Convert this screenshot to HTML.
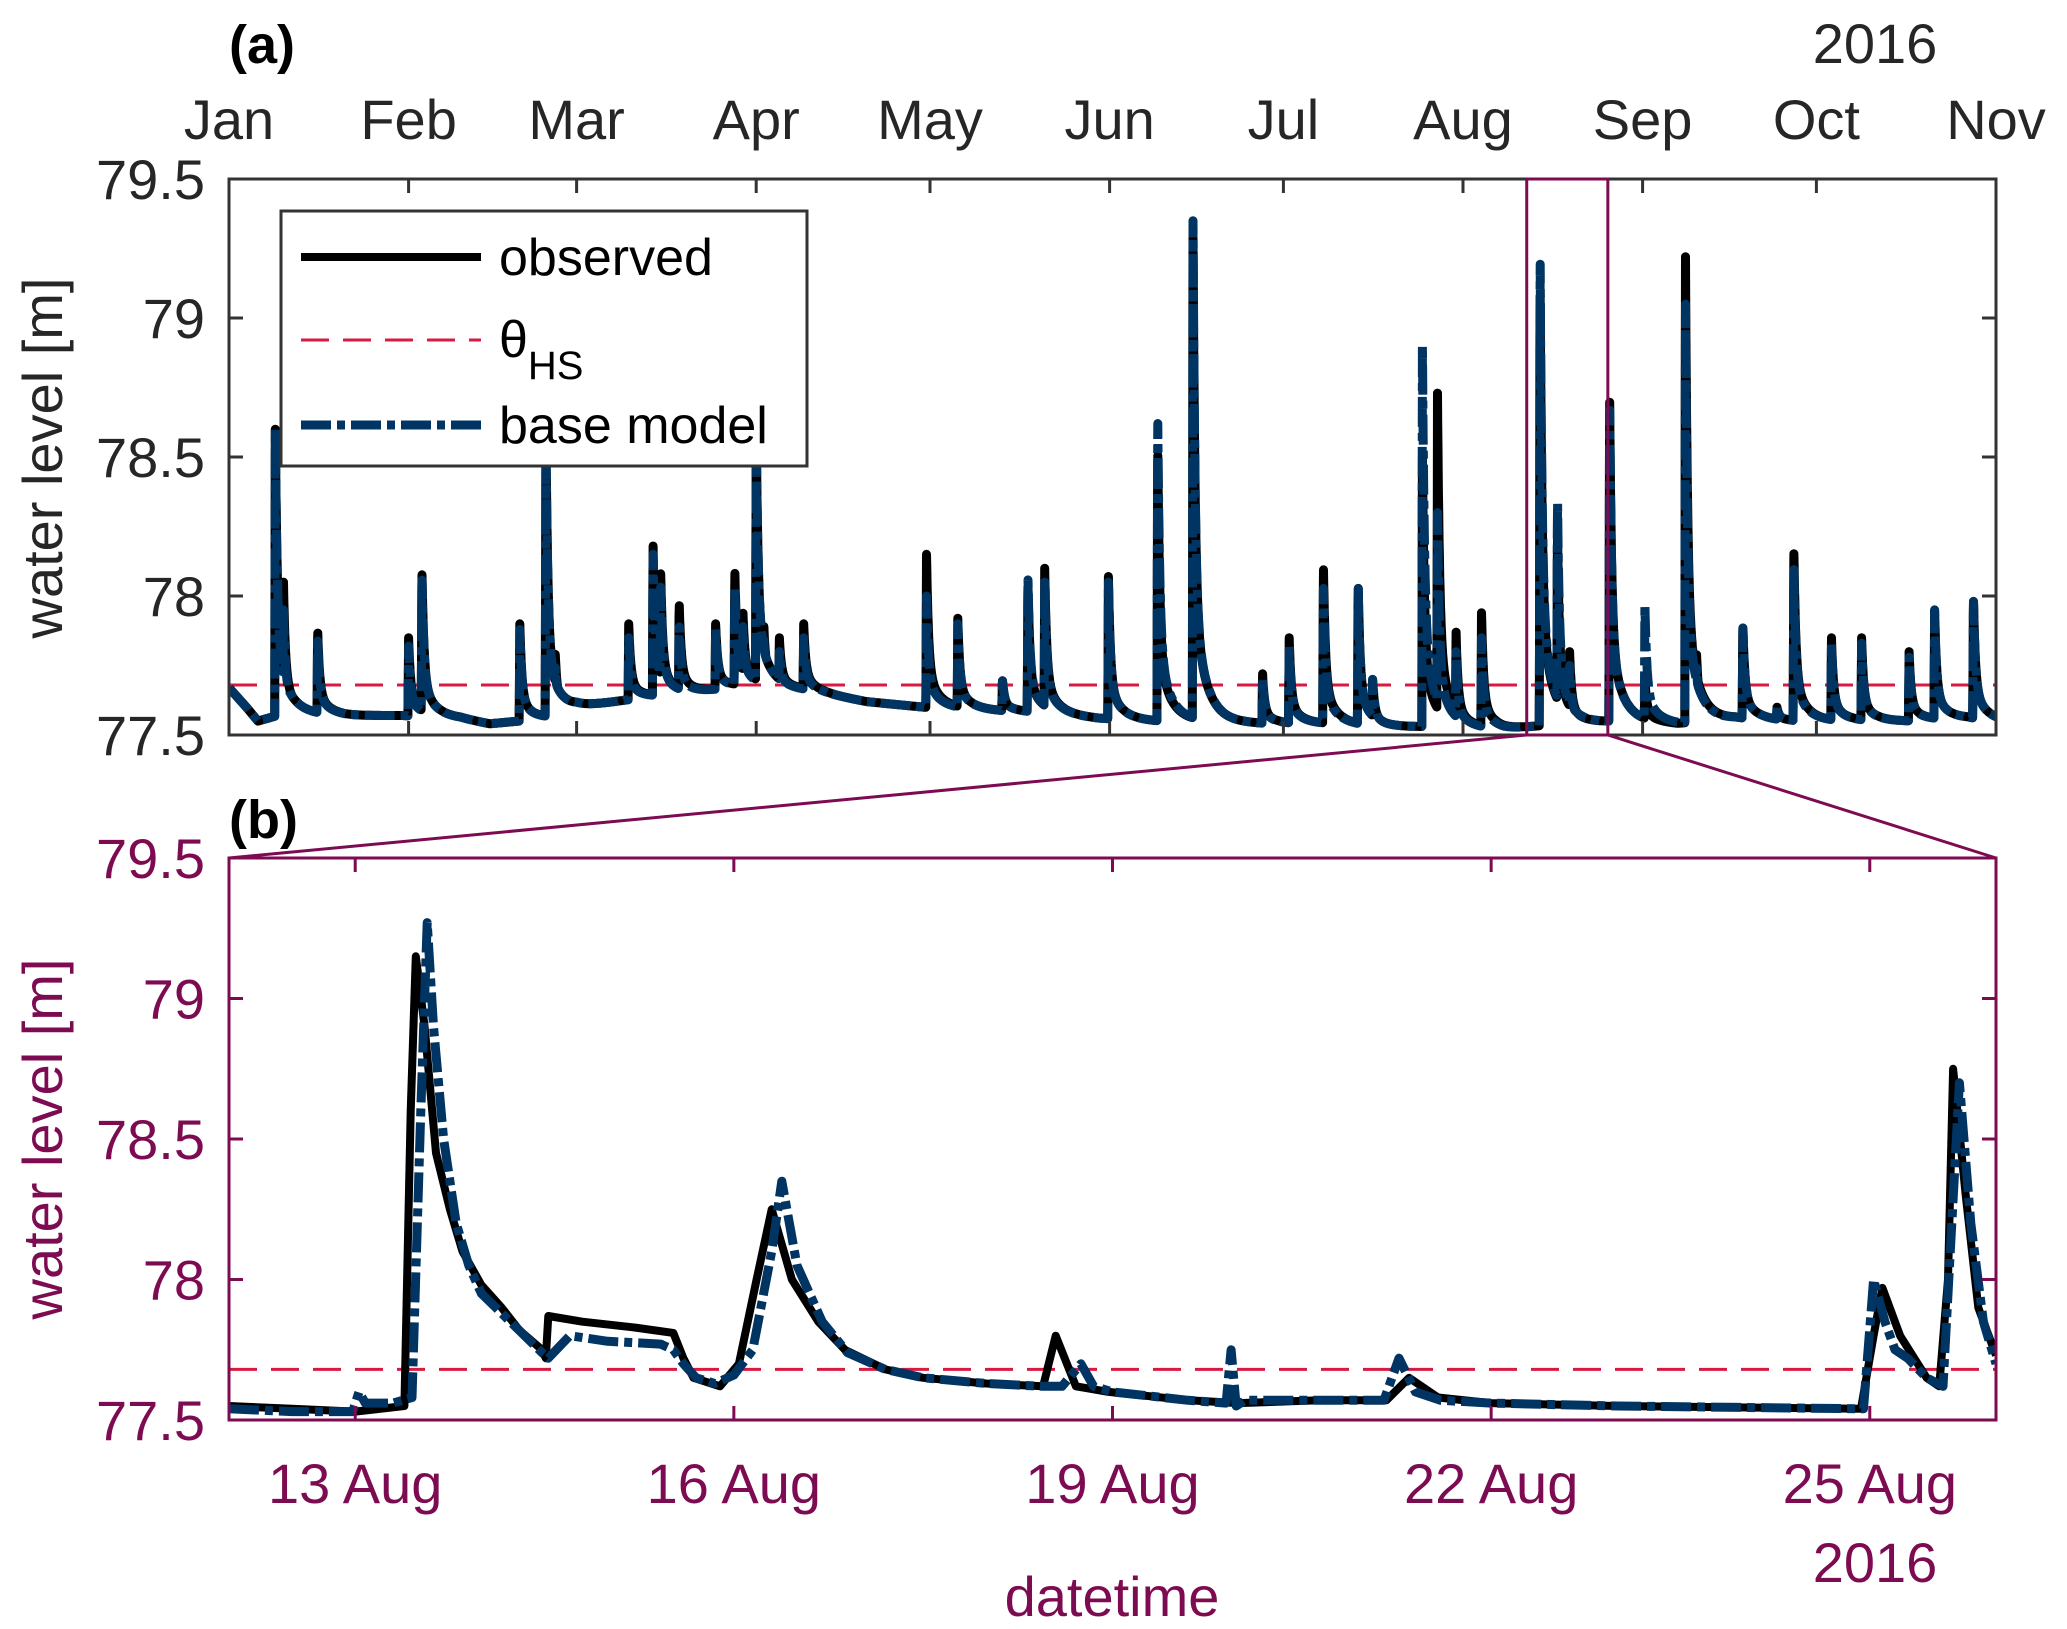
<!DOCTYPE html>
<html><head><meta charset="utf-8"><style>
html,body{margin:0;padding:0;background:#fff;}
svg{display:block;font-family:"Liberation Sans",sans-serif;}
</style></head><body>
<svg id="fig" width="2067" height="1629" viewBox="0 0 2067 1629"></svg>
<script>
// ---------- DATA ----------
const monthLabels=["Jan","Feb","Mar","Apr","May","Jun","Jul","Aug","Sep","Oct","Nov"];
const monthDays=[0,31,60,91,121,152,182,213,244,274,305];
const yTicks=[77.5,78,78.5,79,79.5];
const yTickLabels=["77.5","78","78.5","79","79.5"];
const threshold=77.68;
// baseline knots (day of year, level)
const baseDays=[0,3,5,10,20,30,40,45,55,60,70,80,90,100,110,120,130,140,150,160,170,180,190,200,210,220,230,240,250,260,270,280,290,300,305];
const baseLevels=[77.67,77.6,77.55,77.58,77.57,77.57,77.56,77.54,77.56,77.6,77.63,77.65,77.68,77.66,77.62,77.6,77.59,77.58,77.56,77.55,77.55,77.54,77.54,77.53,77.53,77.52,77.54,77.55,77.54,77.56,77.55,77.55,77.55,77.56,77.55];
// spike events: day, observed peak, modelled peak
const spikeDays=[8.0,9.4,15.3,31.0,33.3,50.2,54.7,56.3,69.0,73.2,74.5,77.7,84.0,87.3,88.7,91.0,92.3,95.0,99.2,120.4,125.8,133.5,137.9,140.8,151.8,160.3,166.4,178.4,183.0,188.9,194.9,197.4,206.0,208.6,211.8,216.2,226.3,229.3,231.4,238.3,244.4,251.4,253.3,261.3,267.2,270.1,276.6,281.8,290.0,294.4,301.1];
const spikeObs=[78.6,78.05,77.88,77.85,78.1,77.9,78.6,77.8,77.9,78.18,78.1,77.98,77.9,78.1,77.95,78.6,77.9,77.85,77.9,78.15,77.92,77.7,78.05,78.1,78.07,78.55,79.3,77.72,77.85,78.12,78.05,77.7,78.5,78.73,77.87,77.94,79.15,78.25,77.8,78.75,77.7,79.22,77.8,77.9,77.6,78.18,77.85,77.85,77.8,77.95,78.0];
const spikeModel=[78.6,77.95,77.85,77.82,78.08,77.88,78.6,77.75,77.85,78.15,78.05,77.9,77.88,78.05,77.9,78.6,77.85,77.8,77.85,78.0,77.9,77.7,78.08,78.05,78.05,78.67,79.35,77.7,77.82,78.05,78.05,77.7,78.9,78.3,77.8,77.85,79.27,78.37,77.75,78.72,77.97,79.05,77.75,77.9,77.6,78.12,77.83,77.83,77.78,77.95,78.0];
// zoom panel (b): day offset from 12 Aug 00:00
const zoomTickLabels=["13 Aug","16 Aug","19 Aug","22 Aug","25 Aug"];
const zoomTickDays=[1,4,7,10,13];
const obsT=[0,0.5,1.0,1.39,1.44,1.48,1.55,1.64,1.75,1.85,2.0,2.16,2.3,2.48,2.51,2.53,2.8,3.2,3.52,3.6,3.68,3.89,4.04,4.18,4.30,4.46,4.67,4.88,5.2,5.5,6.0,6.45,6.55,6.71,6.97,7.6,8.0,8.64,9.17,9.35,9.58,10.0,11.0,12.93,13.03,13.1,13.24,13.45,13.55,13.62,13.66,13.76,13.86,14.0];
const obsV=[77.55,77.54,77.53,77.55,78.6,79.15,78.9,78.45,78.25,78.1,77.98,77.9,77.82,77.75,77.72,77.87,77.85,77.83,77.81,77.72,77.65,77.62,77.7,78.0,78.25,78.0,77.85,77.75,77.68,77.65,77.63,77.62,77.8,77.62,77.6,77.57,77.56,77.57,77.57,77.65,77.58,77.56,77.55,77.54,77.8,77.97,77.8,77.65,77.62,78.0,78.75,78.3,77.9,77.73];
const modT=[0,0.5,0.98,1.03,1.08,1.3,1.45,1.52,1.57,1.62,1.7,1.8,1.9,2.0,2.16,2.48,2.53,2.7,3.0,3.42,3.52,3.6,3.7,3.85,4.0,4.15,4.30,4.38,4.5,4.7,4.9,5.2,5.5,6.0,6.45,6.6,6.75,6.85,7.0,7.6,7.9,7.94,7.98,8.05,8.6,9.15,9.27,9.4,9.6,10.0,11.0,12.95,13.03,13.12,13.2,13.3,13.45,13.58,13.65,13.71,13.8,13.9,14.0];
const modV=[77.54,77.53,77.53,77.6,77.56,77.56,77.58,78.6,79.27,78.9,78.5,78.2,78.05,77.95,77.88,77.74,77.72,77.8,77.78,77.77,77.75,77.7,77.65,77.63,77.66,77.75,78.1,78.35,78.05,77.85,77.74,77.68,77.65,77.63,77.62,77.62,77.7,77.62,77.6,77.57,77.56,77.75,77.55,77.57,77.57,77.57,77.72,77.6,77.57,77.56,77.55,77.54,78.0,77.85,77.75,77.72,77.65,77.62,78.2,78.7,78.2,77.85,77.7];

// ---------- LAYOUT ----------
const NS="http://www.w3.org/2000/svg";
const svg=document.getElementById('fig');
const A={x0:229,x1:1996,y0:179,y1:735};
const B={x0:229,x1:1996,y0:858,y1:1420};
const PUR="#7d0b52", NAVY="#003462", RED="#d81a40", AX="#333";
const xA=d=>A.x0+(d/305)*(A.x1-A.x0);
const yA=v=>A.y1-(v-77.5)/2*(A.y1-A.y0);
const xB=d=>B.x0+(d/14)*(B.x1-B.x0);
const yB=v=>B.y1-(v-77.5)/2*(B.y1-B.y0);
function el(tag,attrs,parent){const e=document.createElementNS(NS,tag);for(const k in attrs)e.setAttribute(k,attrs[k]);(parent||svg).appendChild(e);return e;}
function txt(s,x,y,attrs,parent){const t=el('text',Object.assign({x:x,y:y},attrs),parent);t.textContent=s;return t;}

function baseAt(d){for(let i=0;i<baseDays.length-1;i++){if(d<=baseDays[i+1]){const f=(d-baseDays[i])/(baseDays[i+1]-baseDays[i]);return baseLevels[i]+f*(baseLevels[i+1]-baseLevels[i]);}}return baseLevels[baseLevels.length-1];}
function seriesAt(d,peaks){let v=baseAt(d);for(let i=0;i<spikeDays.length;i++){const dt=d-spikeDays[i];const amp=peaks[i]-baseAt(spikeDays[i]);let c=0;if(dt>=-0.12&&dt<0)c=amp*(1+dt/0.12);else if(dt>=0)c=amp*Math.exp(-dt/0.35)*0.75+amp*0.25*Math.exp(-dt/2.0);if(c>0)v=Math.max(v,baseAt(d)+c);}return v;}
function topPath(peaks){let p="";for(let d=0;d<=305;d+=0.04){p+=(p?"L":"M")+xA(d).toFixed(1)+","+yA(Math.min(79.5,seriesAt(d,peaks))).toFixed(1);}return p;}

const defs=el('defs',{});
const cA=el('clipPath',{id:'clipA'},defs);el('rect',{x:A.x0,y:A.y0,width:A.x1-A.x0,height:A.y1-A.y0},cA);
const cB=el('clipPath',{id:'clipB'},defs);el('rect',{x:B.x0,y:B.y0,width:B.x1-B.x0,height:B.y1-B.y0},cB);

// ---------- PANEL A ----------
const gA=el('g',{'clip-path':'url(#clipA)'});


const thrA=el('line',{x1:A.x0,x2:A.x1,y1:yA(threshold),y2:yA(threshold),stroke:RED,'stroke-width':3,'stroke-dasharray':'28 14'},gA);


const obsA=el('path',{d:topPath(spikeObs),fill:'none',stroke:'#000','stroke-width':9,'stroke-linejoin':'round'},gA);


const modA=el('path',{d:topPath(spikeModel),fill:'none',stroke:NAVY,'stroke-width':9,'stroke-dasharray':'30 6 8 6','stroke-linejoin':'round'},gA);



const frA=el('rect',{x:A.x0,y:A.y0,width:A.x1-A.x0,height:A.y1-A.y0,fill:'none',stroke:AX,'stroke-width':3});


monthDays.forEach((d,i)=>{
  const x=xA(d);
  el('line',{x1:x,x2:x,y1:A.y1,y2:A.y1-14,stroke:AX,'stroke-width':3});
  el('line',{x1:x,x2:x,y1:A.y0,y2:A.y0+14,stroke:AX,'stroke-width':3});
  const t=txt(monthLabels[i],x,139,{'font-size':56,'text-anchor':'middle',fill:'#262626'});
  
  
});
yTicks.forEach((v,i)=>{
  const y=yA(v);
  el('line',{x1:A.x0,x2:A.x0+14,y1:y,y2:y,stroke:AX,'stroke-width':3});
  el('line',{x1:A.x1,x2:A.x1-14,y1:y,y2:y,stroke:AX,'stroke-width':3});
  const t=txt(yTickLabels[i],205,y+20,{'font-size':56,'text-anchor':'end',fill:'#262626'});
  
  
});
const yr=txt("2016",1875,63,{'font-size':56,'text-anchor':'middle',fill:'#262626'});


const la=txt("(a)",229,63,{'font-size':54,'font-weight':'bold',fill:'#000'});


const ylA=txt("water level [m]",0,0,{'font-size':56,'text-anchor':'middle',fill:'#262626',transform:'translate(62,458) rotate(-90)'});



const zb=el('rect',{x:xA(224),y:A.y0,width:xA(238)-xA(224),height:A.y1-A.y0,fill:'none',stroke:PUR,'stroke-width':3});


const z1=el('line',{x1:xA(224),y1:A.y1,x2:B.x0,y2:B.y0,stroke:PUR,'stroke-width':3});


const z2=el('line',{x1:xA(238),y1:A.y1,x2:B.x1,y2:B.y0,stroke:PUR,'stroke-width':3});



// legend
const lg=el('g',{});


el('rect',{x:281,y:211,width:526,height:255,fill:'#fff',stroke:AX,'stroke-width':3},lg);
const le1=el('line',{x1:301,x2:481,y1:257,y2:257,stroke:'#000','stroke-width':8},lg);


txt("observed",499,275,{'font-size':52,fill:'#000'},lg);
const le2=el('line',{x1:301,x2:481,y1:340,y2:340,stroke:RED,'stroke-width':3,'stroke-dasharray':'28 14'},lg);


const th=txt("θ",499,357,{'font-size':52,fill:'#000'},lg);
const hs=el('tspan',{dy:22,'font-size':40},th);hs.textContent="HS";
const le3=el('line',{x1:301,x2:481,y1:425,y2:425,stroke:NAVY,'stroke-width':9,'stroke-dasharray':'30 6 8 6'},lg);


txt("base model",499,443,{'font-size':52,fill:'#000'},lg);

// ---------- PANEL B ----------
const gB=el('g',{'clip-path':'url(#clipB)'});


const thrB=el('line',{x1:B.x0,x2:B.x1,y1:yB(threshold),y2:yB(threshold),stroke:RED,'stroke-width':3,'stroke-dasharray':'28 14'},gB);


function pathB(T,V){return T.map((t,i)=>(i?"L":"M")+xB(t).toFixed(1)+","+yB(V[i]).toFixed(1)).join("");}
const obsB=el('path',{d:pathB(obsT,obsV),fill:'none',stroke:'#000','stroke-width':8,'stroke-linejoin':'round'},gB);


const modB=el('path',{d:pathB(modT,modV),fill:'none',stroke:NAVY,'stroke-width':9,'stroke-dasharray':'30 6 8 6','stroke-linejoin':'round'},gB);



const frB=el('rect',{x:B.x0,y:B.y0,width:B.x1-B.x0,height:B.y1-B.y0,fill:'none',stroke:PUR,'stroke-width':3});


zoomTickDays.forEach((d,i)=>{
  const x=xB(d);
  el('line',{x1:x,x2:x,y1:B.y1,y2:B.y1-14,stroke:PUR,'stroke-width':3});
  el('line',{x1:x,x2:x,y1:B.y0,y2:B.y0+14,stroke:PUR,'stroke-width':3});
  const t=txt(zoomTickLabels[i],x,1503,{'font-size':56,'text-anchor':'middle',fill:PUR});
  
  
});
yTicks.forEach((v,i)=>{
  const y=yB(v);
  el('line',{x1:B.x0,x2:B.x0+14,y1:y,y2:y,stroke:PUR,'stroke-width':3});
  el('line',{x1:B.x1,x2:B.x1-14,y1:y,y2:y,stroke:PUR,'stroke-width':3});
  const t=txt(yTickLabels[i],205,y+20,{'font-size':56,'text-anchor':'end',fill:PUR});
  
  
});
const yrB=txt("2016",1875,1582,{'font-size':56,'text-anchor':'middle',fill:PUR});


const lb=txt("(b)",229,838,{'font-size':54,'font-weight':'bold',fill:'#000'});


const ylB=txt("water level [m]",0,0,{'font-size':56,'text-anchor':'middle',fill:PUR,transform:'translate(62,1139) rotate(-90)'});


const xl=txt("datetime",1112,1616,{'font-size':56,'text-anchor':'middle',fill:PUR});


</script>
</body></html>
